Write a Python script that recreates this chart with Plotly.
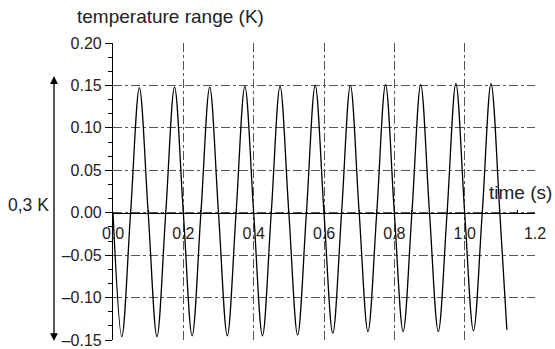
import plotly.graph_objects as go

# Time samples (s) at quarter periods
time_s = [0.000, 0.025, 0.050, 0.075, 0.100, 0.125, 0.150, 0.175, 0.200, 0.225,
          0.250, 0.275, 0.300, 0.325, 0.350, 0.375, 0.400, 0.425, 0.450, 0.475,
          0.500, 0.525, 0.550, 0.575, 0.600, 0.625, 0.650, 0.675, 0.700, 0.725,
          0.750, 0.775, 0.800, 0.825, 0.850, 0.875, 0.900, 0.925, 0.950, 0.975,
          1.000, 1.025, 1.050, 1.075, 1.100, 1.120]
# Temperature deviation (K)
temp_K = [0.000, -0.146, 0.000, 0.147, 0.000, -0.146, 0.000, 0.148, 0.000, -0.145,
          0.000, 0.148, 0.000, -0.145, 0.000, 0.149, 0.000, -0.145, 0.000, 0.149,
          0.000, -0.144, 0.000, 0.150, 0.000, -0.142, 0.000, 0.150, 0.000, -0.140,
          0.000, 0.151, 0.000, -0.140, 0.000, 0.151, 0.000, -0.140, 0.000, 0.152,
          0.000, -0.139, 0.000, 0.152, 0.000, -0.138]

y_ticks = [-0.15, -0.10, -0.05, 0.00, 0.05, 0.10, 0.15, 0.20]
y_labels = ["\u20130.15", "\u20130.10", "\u20130.05", "0.00", "0.05", "0.10", "0.15", "0.20"]
x_ticks = [0.0, 0.2, 0.4, 0.6, 0.8, 1.0, 1.2]
x_labels = ["0.0", "0.2", "0.4", "0.6", "0.8", "1.0", "1.2"]

FONT = "Liberation Sans, Arial, Helvetica, sans-serif"
GRID = "#555555"
TXT = "#222222"

fig = go.Figure()
fig.add_trace(go.Scatter(
    x=time_s, y=temp_K, mode="lines",
    line=dict(color="black", width=1.3, shape="spline", smoothing=1.0),
    hoverinfo="skip", showlegend=False,
))

fig.update_layout(
    width=555, height=349,
    margin=dict(l=113, r=20, t=43, b=9, autoexpand=False),
    paper_bgcolor="white", plot_bgcolor="white",
    font=dict(family=FONT, size=16, color=TXT),
    xaxis=dict(
        range=[0, 1.2], tickvals=x_ticks, ticktext=x_labels,
        anchor="free", position=0.15 / 0.35, side="bottom", automargin=False,
        showline=True, linecolor="black", linewidth=1.2,
        ticks="inside", ticklen=0, tickcolor="black", ticklabelstandoff=6,
        minor=dict(dtick=0.05, tick0=0, ticks="inside", ticklen=3, tickcolor="black", showgrid=False),
        showgrid=True, gridcolor=GRID, griddash="dashdot", gridwidth=1,
        zeroline=False, tickfont=dict(size=16, color=TXT),
    ),
    yaxis=dict(
        range=[-0.15, 0.20], tickvals=y_ticks, ticktext=y_labels, automargin=False,
        showline=True, linecolor="black", linewidth=1.2,
        ticks="outside", ticklen=7, tickcolor="black",
        minor=dict(dtick=0.05 / 3, tick0=0, ticks="outside", ticklen=4, tickcolor="black", showgrid=False),
        showgrid=True, gridcolor=GRID, griddash="dashdot", gridwidth=1,
        zeroline=False, tickfont=dict(size=16, color=TXT),
    ),
)

annotations = [
    dict(text="temperature range (K)", xref="paper", yref="paper",
         x=(75 - 113) / 422, y=1 + (43 - 17) / 297, xanchor="left", yanchor="middle",
         showarrow=False, font=dict(size=19, color=TXT)),
    dict(text="time (s)", xref="paper", yref="paper",
         x=(554 - 113) / 422, y=(340 - 193) / 297, xanchor="right", yanchor="middle",
         showarrow=False, font=dict(size=19, color=TXT)),
    dict(text="0,3 K", xref="paper", yref="paper",
         x=(6 - 113) / 422, y=(340 - 205) / 297, xanchor="left", yanchor="middle",
         showarrow=False, font=dict(size=17.5, color=TXT)),
    dict(text="", xref="paper", yref="y", x=(54 - 113) / 422, y=0.161,
         axref="pixel", ayref="y", ax=0, ay=-0.153,
         showarrow=True, arrowhead=2, arrowside="end+start", arrowsize=1.2,
         arrowwidth=1.3, arrowcolor="black"),
]
fig.update_layout(annotations=annotations)

fig.write_html("out.html")
